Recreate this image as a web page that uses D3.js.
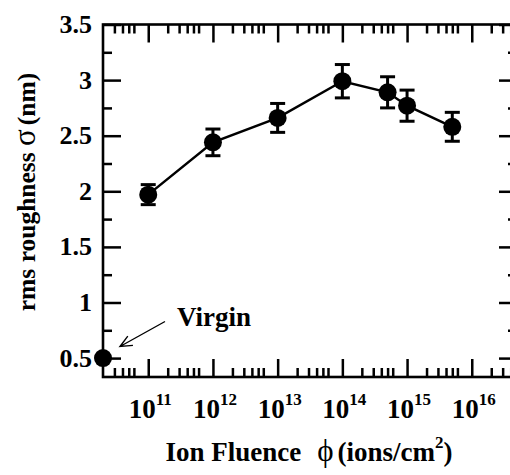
<!DOCTYPE html>
<html>
<head>
<meta charset="utf-8">
<script src="https://cdn.jsdelivr.net/npm/d3@7"></script>
<style>
  body { margin: 0; background: #fff; }
</style>
</head>
<body>
<svg id="chart" width="510" height="475"></svg>
<script>
// Surface roughness versus ion fluence
const fluence = [1e11, 1e12, 1e13, 1e14, 5e14, 1e15, 5e15];
const roughness = [1.97, 2.44, 2.66, 2.99, 2.89, 2.77, 2.58];
const roughnessErr = [0.09, 0.12, 0.13, 0.15, 0.14, 0.14, 0.13];
// unirradiated sample, placed at the lower end of the fluence axis
const virginFluence = [2e10];
const virginRoughness = [0.5];
const xTickExponents = [11, 12, 13, 14, 15, 16];
const yTickValues = [0.5, 1, 1.5, 2, 2.5, 3, 3.5];
const yTickLabels = ["0.5", "1", "1.5", "2", "2.5", "3", "3.5"];

const FONT = "'Liberation Serif', 'Times New Roman', serif";
const svg = d3.select("#chart");
const plotLeft = 103, plotRight = 517, plotTop = 24.5, plotBottom = 377;

const x = d3.scaleLog().domain([2e10, 5e16]).range([plotLeft, plotRight]);
const y = d3.scaleLinear().domain([0.33, 3.5]).range([plotBottom, plotTop]);

const majorX = xTickExponents.map(e => Math.pow(10, e));
const minorX = [];
for (let e = 10; e <= 16; e++) {
  for (const m of [2, 3, 4, 5, 6]) {
    const v = m * Math.pow(10, e);
    if (v > 2e10 && v < 5e16) minorX.push(v);
  }
}
const minorY = d3.range(0.75, 3.5, 0.5);

const majorLen = 18, minorLen = 9;
const tickStroke = 2.5;

function styleAxis(g) {
  g.select(".domain").remove();
  g.selectAll(".tick line").attr("stroke", "#000").attr("stroke-width", tickStroke);
  g.selectAll(".tick text").remove();
}

// inward ticks on all four sides
svg.append("g").attr("transform", `translate(0,${plotBottom})`)
  .call(d3.axisBottom(x).tickValues(majorX).tickSize(-majorLen)).call(styleAxis);
svg.append("g").attr("transform", `translate(0,${plotBottom})`)
  .call(d3.axisBottom(x).tickValues(minorX).tickSize(-minorLen)).call(styleAxis);
svg.append("g").attr("transform", `translate(0,${plotTop})`)
  .call(d3.axisTop(x).tickValues(majorX).tickSize(-majorLen)).call(styleAxis);
svg.append("g").attr("transform", `translate(0,${plotTop})`)
  .call(d3.axisTop(x).tickValues(minorX).tickSize(-minorLen)).call(styleAxis);
svg.append("g").attr("transform", `translate(${plotLeft},0)`)
  .call(d3.axisLeft(y).tickValues(yTickValues).tickSize(-majorLen)).call(styleAxis);
svg.append("g").attr("transform", `translate(${plotLeft},0)`)
  .call(d3.axisLeft(y).tickValues(minorY).tickSize(-minorLen)).call(styleAxis);
svg.append("g").attr("transform", `translate(${plotRight},0)`)
  .call(d3.axisRight(y).tickValues(yTickValues).tickSize(-majorLen)).call(styleAxis);
svg.append("g").attr("transform", `translate(${plotRight},0)`)
  .call(d3.axisRight(y).tickValues(minorY).tickSize(-minorLen)).call(styleAxis);

// frame
svg.append("rect")
  .attr("x", plotLeft).attr("y", plotTop)
  .attr("width", plotRight - plotLeft).attr("height", plotBottom - plotTop)
  .attr("fill", "none").attr("stroke", "#000").attr("stroke-width", 2.6);

const labels = svg.append("g")
  .attr("font-family", FONT).attr("font-weight", "bold").attr("fill", "#000");

// y tick labels
labels.append("g").selectAll("text").data(yTickValues).join("text")
  .attr("x", 92).attr("y", d => y(d) + 8.5)
  .attr("text-anchor", "end").attr("font-size", 26)
  .text((d, i) => yTickLabels[i]);

// x tick labels: 10 with superscript exponent
const xl = labels.append("g").selectAll("text").data(xTickExponents).join("text")
  .attr("x", e => x(Math.pow(10, e)) + 2).attr("y", 418)
  .attr("text-anchor", "middle").attr("font-size", 27);
xl.append("tspan").text("10");
xl.append("tspan").attr("dy", -13).attr("font-size", 17).text(e => e);

// connecting line
const pts = fluence.map((f, i) => ({ f, r: roughness[i], e: roughnessErr[i] }));
svg.append("path").datum(pts)
  .attr("fill", "none").attr("stroke", "#000").attr("stroke-width", 2.5)
  .attr("d", d3.line().x(d => x(d.f)).y(d => y(d.r)));

// error bars
const eb = svg.append("g").attr("stroke", "#000").attr("stroke-width", 3);
eb.selectAll(".v").data(pts).join("line")
  .attr("x1", d => x(d.f)).attr("x2", d => x(d.f))
  .attr("y1", d => y(d.r - d.e)).attr("y2", d => y(d.r + d.e));
eb.selectAll(".capT").data(pts).join("line")
  .attr("x1", d => x(d.f) - 7.5).attr("x2", d => x(d.f) + 7.5)
  .attr("y1", d => y(d.r + d.e)).attr("y2", d => y(d.r + d.e));
eb.selectAll(".capB").data(pts).join("line")
  .attr("x1", d => x(d.f) - 7.5).attr("x2", d => x(d.f) + 7.5)
  .attr("y1", d => y(d.r - d.e)).attr("y2", d => y(d.r - d.e));

// markers
svg.append("g").selectAll("circle").data(pts).join("circle")
  .attr("cx", d => x(d.f)).attr("cy", d => y(d.r)).attr("r", 9).attr("fill", "#000");
svg.append("g").selectAll("circle").data(virginFluence).join("circle")
  .attr("cx", d => x(d)).attr("cy", (d, i) => y(virginRoughness[i])).attr("r", 9).attr("fill", "#000");

// annotation for the virgin sample
labels.append("text").attr("x", 177).attr("y", 326).attr("font-size", 27).text("Virgin");
const tip = [120, 346.5], tail = [165, 321.5];
const ang = Math.atan2(tail[1] - tip[1], tail[0] - tip[0]);
const headLen = 13, spread = 0.42;
svg.append("path")
  .attr("fill", "none").attr("stroke", "#000").attr("stroke-width", 1.4)
  .attr("d", `M${tail[0]},${tail[1]}L${tip[0]},${tip[1]}` +
    `M${tip[0] + headLen * Math.cos(ang - spread)},${tip[1] + headLen * Math.sin(ang - spread)}` +
    `L${tip[0]},${tip[1]}` +
    `L${tip[0] + headLen * Math.cos(ang + spread)},${tip[1] + headLen * Math.sin(ang + spread)}`);

// axis titles
const yt = labels.append("text")
  .attr("transform", "translate(35,192) rotate(-90)")
  .attr("text-anchor", "middle").attr("font-size", 25.5);
yt.append("tspan").text("rms roughness ");
yt.append("tspan").attr("font-weight", "normal").attr("font-size", 31).text("σ");
yt.append("tspan").attr("dx", 4).text("(nm)");

const xt = labels.append("text")
  .attr("x", 309).attr("y", 461)
  .attr("text-anchor", "middle").attr("font-size", 27);
xt.append("tspan").text("Ion Fluence");
xt.append("tspan").attr("dx", 16).attr("font-weight", "normal").attr("font-size", 31).text("ϕ");
xt.append("tspan").attr("dx", 4).text("(ions/cm");
xt.append("tspan").attr("dy", -13).attr("font-size", 17).text("2");
xt.append("tspan").attr("dy", 13).text(")");
</script>
</body>
</html>
